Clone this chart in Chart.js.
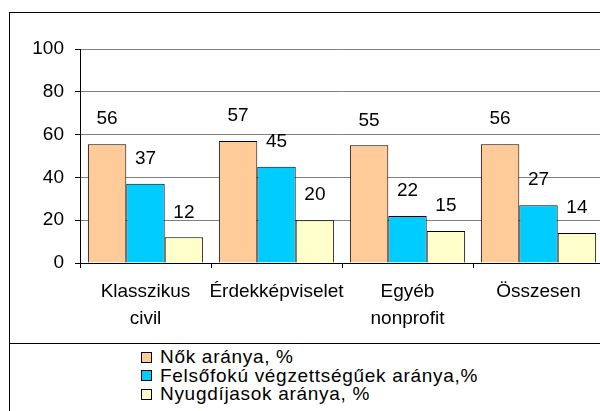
<!DOCTYPE html>
<html>
<head>
<meta charset="utf-8">
<script src="https://cdn.jsdelivr.net/npm/chart.js@4.4.1/dist/chart.umd.min.js"></script>
<style>
  html, body { margin: 0; padding: 0; background: #fff; }
  #wrap { position: relative; width: 600px; height: 411px; overflow: hidden; }
  #chart { position: absolute; left: 0; top: 0; }
  .frame-top { position: absolute; left: 9px; top: 12px; width: 600px; height: 0; border-top: 1px solid #000; }
  .frame-left { position: absolute; left: 9px; top: 12px; width: 0; height: 420px; border-left: 1px solid #000; }
  .legend-line { position: absolute; left: 9px; top: 343px; width: 600px; height: 0; border-top: 1px solid #000; }
  #legend { position: absolute; left: 141px; top: 348px; font-family: "Liberation Sans", Arial, sans-serif; font-size: 19px; letter-spacing: 0.7px; color: #000; }
  .legend-row { height: 18.6px; line-height: 18.6px; white-space: nowrap; display: flex; align-items: center; }
  .legend-box { width: 9px; height: 9px; border: 1px solid #000; margin-right: 8px; flex: none; }
</style>
</head>
<body>
<div id="wrap">
  <canvas id="chart" width="620" height="343"></canvas>
  <div class="frame-top"></div>
  <div class="frame-left"></div>
  <div class="legend-line"></div>
  <div id="legend"></div>
</div>
<script>
const categories = [["Klasszikus", "civil"], "Érdekképviselet", ["Egyéb", "nonprofit"], "Összesen"];
const seriesNames = ["Nők aránya, %", "Felsőfokú végzettségűek aránya,%", "Nyugdíjasok aránya, %"];
const nokArany = [55.5, 57, 55, 55.5];
const felsofokuArany = [37, 45, 22, 27];
const nyugdijasArany = [12, 20, 15, 14];
const yTicks = [0, 20, 40, 60, 80, 100];
const seriesColors = ["#FFCC99", "#00CCFF", "#FFFFCC"];

const fontFamily = '"Liberation Sans", Arial, sans-serif';
Chart.defaults.font.family = fontFamily;
Chart.defaults.font.size = 19;
Chart.defaults.color = "#000";

const valueLabels = {
  id: "valueLabels",
  afterDatasetsDraw(chart) {
    const ctx = chart.ctx;
    ctx.save();
    ctx.font = "19px " + fontFamily;
    ctx.fillStyle = "#000";
    ctx.textAlign = "center";
    ctx.textBaseline = "middle";
    chart.data.datasets.forEach((ds, i) => {
      chart.getDatasetMeta(i).data.forEach((bar, j) => {
        ctx.fillText(String(Math.round(ds.data[j])), bar.x, bar.y - 25);
      });
    });
    ctx.restore();
  }
};

const chart = new Chart(document.getElementById("chart"), {
  type: "bar",
  data: {
    labels: categories,
    datasets: [nokArany, felsofokuArany, nyugdijasArany].map((values, i) => ({
      label: seriesNames[i],
      data: values,
      backgroundColor: seriesColors[i],
      borderColor: "#000",
      borderWidth: 1,
      barPercentage: 1,
      categoryPercentage: 0.88
    }))
  },
  options: {
    responsive: false,
    animation: false,
    events: [],
    layout: { padding: { top: 49, right: 16, bottom: 0, left: 0 } },
    plugins: {
      legend: { display: false },
      tooltip: { enabled: false }
    },
    scales: {
      x: {
        grid: { drawOnChartArea: false, tickLength: 5, tickColor: "#000", offset: true },
        border: { color: "#000", width: 1 },
        ticks: { padding: 10, font: { size: 19, lineHeight: 1.42 }, maxRotation: 0, autoSkip: false },
        afterFit(scale) { scale.height = 80; }
      },
      y: {
        min: 0,
        max: 100,
        afterBuildTicks(scale) { scale.ticks = yTicks.map((v) => ({ value: v })); },
        grid: { color: "#808080", tickLength: 5, tickColor: "#000" },
        border: { color: "#000", width: 1 },
        ticks: { padding: 11, font: { size: 19 } },
        afterFit(scale) { scale.width = 80; }
      }
    }
  },
  plugins: [valueLabels]
});

document.getElementById("legend").innerHTML = chart.data.datasets
  .map(
    (ds) => `
    <div class="legend-row">
      <span class="legend-box" style="background:${ds.backgroundColor}"></span>
      <span>${ds.label}</span>
    </div>
  `
  )
  .join("");
</script>
</body>
</html>
